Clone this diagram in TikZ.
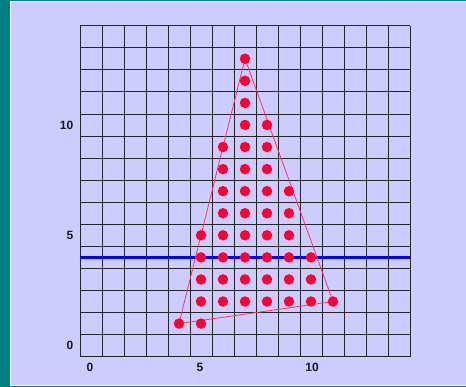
\documentclass[tikz,border=0pt]{standalone}
\usepackage{fontspec}
\setmainfont{Liberation Sans}
\definecolor{frameteal}{HTML}{008080}
\definecolor{lav}{HTML}{CCCCFF}
\definecolor{dotred}{HTML}{FF0033}
\definecolor{edgered}{HTML}{FF3366}
\definecolor{scanblue}{HTML}{0000FF}
\tikzset{
  pix/.style={circle, fill=dotred, draw=none, inner sep=0pt, minimum size=10.5pt},
  gridline/.style={draw=black!85, line width=0.75pt},
  edge/.style={draw=edgered, line width=0.8pt},
  scan/.style={draw=scanblue, line width=3.6pt},
  axlab/.style={font=\bfseries\fontsize{12}{14}\selectfont, text=black!90, inner sep=0pt}
}
\begin{document}
\begin{tikzpicture}[x=1pt,y=1pt]
\useasboundingbox (0,0) rectangle (466,387);
\fill[frameteal] (0,0) rectangle (466,387);
\fill[white] (10,1.3) rectangle (466,385.8);
\fill[lav] (11.4,2.4) rectangle (466,384.7);
\begin{scope}[shift={(80,30.3)}, x=22pt, y=22.07pt]
  \foreach \k in {0,...,15} {
    \draw[gridline] (\k,0) -- (\k,15);
    \draw[gridline] (0,\k) -- (15,\k);
  }
  \coordinate (sl) at (0,4.5);
  \coordinate (sr) at (15,4.5);
  \draw[scan] (sl) -- (sr);
  % axis labels
  \node[axlab, anchor=east] (y0) at (-0.3,0.5) {0};
  \node[axlab, anchor=east] (y5) at (-0.3,5.5) {5};
  \node[axlab, anchor=east] (y10) at (-0.3,10.5) {10};
  \node[axlab] (x0) at (0.45,-0.47) {0};
  \node[axlab] (x5) at (5.45,-0.47) {5};
  \node[axlab] (x10) at (10.55,-0.47) {10};
  % triangle vertices
  \coordinate (A) at (7.5,13.5);
  \coordinate (B) at (4.5,1.5);
  \coordinate (C) at (11.5,2.5);
  \draw[edge] (A) -- (B) -- (C) -- cycle;
  % pixels
  \foreach \xx/\yy in {7/13,7/12,7/11,7/10,8/10,
    6/9,7/9,8/9, 6/8,7/8,8/8,
    6/7,7/7,8/7,9/7, 6/6,7/6,8/6,9/6,
    5/5,6/5,7/5,8/5,9/5,
    5/4,6/4,7/4,8/4,9/4,10/4,
    5/3,6/3,7/3,8/3,9/3,10/3,
    5/2,6/2,7/2,8/2,9/2,10/2,11/2,
    4/1,5/1}
    \node[pix] (p\xx-\yy) at (\xx+0.5,\yy+0.5) {};
\end{scope}
\end{tikzpicture}
\end{document}
